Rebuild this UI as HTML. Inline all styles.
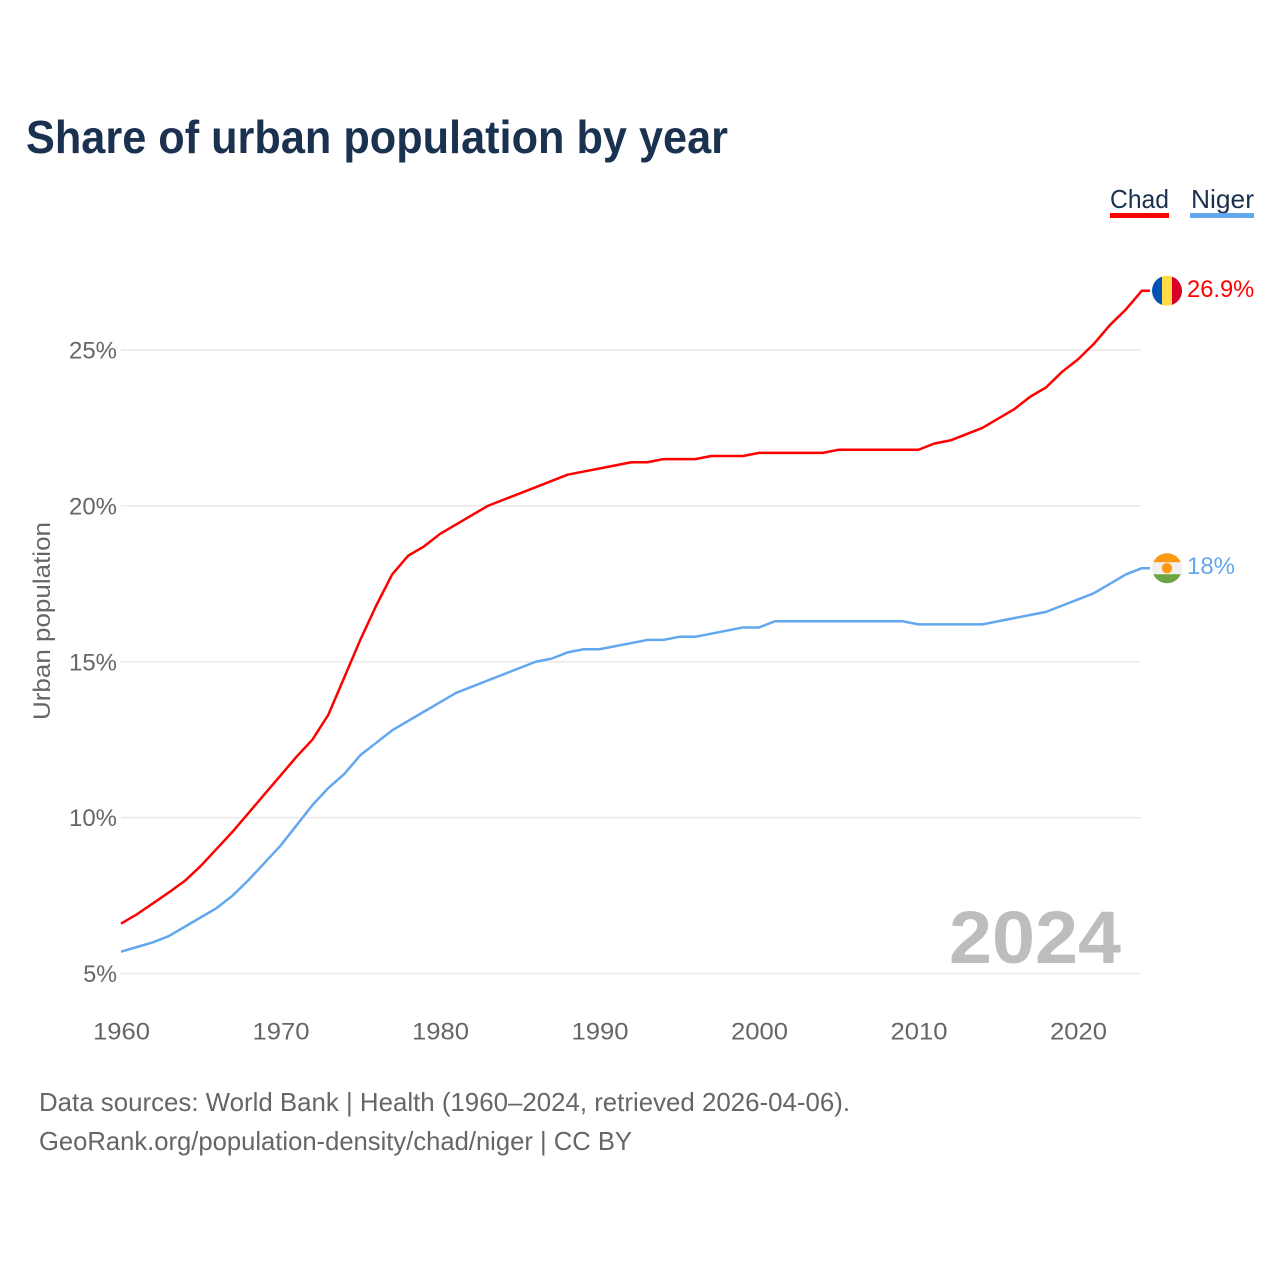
<!DOCTYPE html>
<html lang="en">
<head>
<meta charset="utf-8">
<title>Share of urban population by year</title>
<style>
html,body{margin:0;padding:0;background:#fff;}
svg{display:block;font-family:"Liberation Sans",sans-serif;}
</style>
</head>
<body>
<svg id="chart" xmlns="http://www.w3.org/2000/svg" width="1280" height="1280" viewBox="0 0 1280 1280">
  <rect x="0" y="0" width="1280" height="1280" fill="#ffffff"/>
  <defs>
    <clipPath id="clip-chad"><circle id="clip-chad-circle" cx="1167" cy="290" r="15"/></clipPath>
    <clipPath id="clip-niger"><circle id="clip-niger-circle" cx="1167" cy="568" r="15"/></clipPath>
  </defs>
  <text x="26" y="153" font-size="46" font-weight="700" fill="#1a3150" textLength="702" lengthAdjust="spacingAndGlyphs">Share of urban population by year</text>

  <g>
    <g>
      <text x="1110" y="208" font-size="26" fill="#1a3150" textLength="59" lengthAdjust="spacingAndGlyphs">Chad</text>
      <rect x="1110" y="213" width="59" height="5" fill="#ff0000"/>
    </g>
    <g>
      <text x="1191" y="208" font-size="26" fill="#1a3150" textLength="63" lengthAdjust="spacingAndGlyphs">Niger</text>
      <rect x="1190" y="213" width="64" height="5" fill="#63a7ee"/>
    </g>
  </g>

  <text transform="translate(50,720) rotate(-90)" font-size="24" fill="#666666" textLength="198" lengthAdjust="spacingAndGlyphs">Urban population</text>

  <g id="grid"></g>
  <g id="y-ticks"></g>
  <g id="x-ticks"></g>

  <text x="949" y="963" font-size="74" font-weight="700" fill="#bdbdbd" textLength="172" lengthAdjust="spacingAndGlyphs">2024</text>

  <g id="series"></g>

  <g id="flag-chad" clip-path="url(#clip-chad)">
    <rect id="chad-a" x="1152" width="10" height="30" fill="#0052b4"/>
    <rect id="chad-b" x="1162" width="10" height="30" fill="#ffda44"/>
    <rect id="chad-c" x="1172" width="10" height="30" fill="#d80027"/>
  </g>
  <g id="flag-niger" clip-path="url(#clip-niger)">
    <rect id="niger-a" x="1152" width="30" height="10" fill="#ff9811"/>
    <rect id="niger-b" x="1152" width="30" height="12" fill="#f0f0f0"/>
    <rect id="niger-c" x="1152" width="30" height="10" fill="#6da544"/>
    <circle id="niger-d" cx="1167" r="5.2" fill="#ff9811"/>
  </g>
  <text id="value-chad" x="1187" font-size="24" fill="#ff0000"></text>
  <text id="value-niger" x="1187" font-size="24" fill="#63a7ee"></text>

  <text x="39" y="1111" font-size="26" fill="#666666" textLength="811" lengthAdjust="spacingAndGlyphs">Data sources: World Bank | Health (1960–2024, retrieved 2026-04-06).</text>
  <text x="39" y="1150" font-size="26" fill="#666666" textLength="593" lengthAdjust="spacingAndGlyphs">GeoRank.org/population-density/chad/niger | CC BY</text>
</svg>
<script>
const startYear = 1960;
const xTickYears = [1960, 1970, 1980, 1990, 2000, 2010, 2020];
const yTickValues = [5, 10, 15, 20, 25];
const chadValues = [6.6, 6.9, 7.25, 7.6, 7.97, 8.45, 9.0, 9.55, 10.15, 10.75, 11.35, 11.95, 12.5, 13.3, 14.5, 15.7, 16.8, 17.8, 18.4, 18.7, 19.1, 19.4, 19.7, 20.0, 20.2, 20.4, 20.6, 20.8, 21.0, 21.1, 21.2, 21.3, 21.4, 21.4, 21.5, 21.5, 21.5, 21.6, 21.6, 21.6, 21.7, 21.7, 21.7, 21.7, 21.7, 21.8, 21.8, 21.8, 21.8, 21.8, 21.8, 22.0, 22.1, 22.3, 22.5, 22.8, 23.1, 23.5, 23.8, 24.3, 24.7, 25.2, 25.8, 26.3, 26.9];
const nigerValues = [5.7, 5.85, 6.0, 6.2, 6.5, 6.8, 7.1, 7.5, 8.0, 8.55, 9.1, 9.75, 10.4, 10.95, 11.4, 12.0, 12.4, 12.8, 13.1, 13.4, 13.7, 14.0, 14.2, 14.4, 14.6, 14.8, 15.0, 15.1, 15.3, 15.4, 15.4, 15.5, 15.6, 15.7, 15.7, 15.8, 15.8, 15.9, 16.0, 16.1, 16.1, 16.3, 16.3, 16.3, 16.3, 16.3, 16.3, 16.3, 16.3, 16.3, 16.2, 16.2, 16.2, 16.2, 16.2, 16.3, 16.4, 16.5, 16.6, 16.8, 17.0, 17.2, 17.5, 17.8, 18.0];

const NS = 'http://www.w3.org/2000/svg';
function xScale(year) { return 121 + (year - 1960) * 15.95; }
function yScale(value) { return 973.5 - (value - 5) * 31.175; }
function textWidth(s) {
  let w = 0;
  for (const c of s) { w += c === '%' ? 19.5 : c === '.' ? 5 : 14.25; }
  return w;
}
function make(tag, attrs, parent) {
  const el = document.createElementNS(NS, tag);
  for (const k in attrs) { el.setAttribute(k, attrs[k]); }
  parent.appendChild(el);
  return el;
}

const grid = document.getElementById('grid');
const yTicks = document.getElementById('y-ticks');
const xTicks = document.getElementById('x-ticks');
const series = document.getElementById('series');

yTickValues.forEach(function (v) {
  const line = make('line', { x1: 121, x2: 1141, y1: yScale(v), y2: yScale(v), stroke: '#e9e9e9', 'stroke-width': 1.5 }, grid);
  
  
  const label = v + '%';
  const t = make('text', { x: 117, y: yScale(v) + 8.5, 'font-size': 24, fill: '#666666', 'text-anchor': 'end', textLength: textWidth(label), lengthAdjust: 'spacingAndGlyphs' }, yTicks);
  
  
  t.textContent = label;
});

xTickYears.forEach(function (y) {
  const label = String(y);
  const t = make('text', { x: xScale(y) + 0.5, y: 1039.5, 'font-size': 24, fill: '#666666', 'text-anchor': 'middle', textLength: textWidth(label), lengthAdjust: 'spacingAndGlyphs' }, xTicks);
  
  
  t.textContent = label;
});

function drawSeries(values, color, key) {
  const pts = values.map(function (v, i) { return xScale(startYear + i).toFixed(2) + ',' + yScale(v).toFixed(2); });
  const lastY = yScale(values[values.length - 1]);
  pts.push('1150,' + lastY.toFixed(2));
  const line = make('polyline', { points: pts.join(' '), fill: 'none', stroke: color, 'stroke-width': 2.5, 'stroke-linejoin': 'round' }, series);
  
  
  return lastY;
}

const chadY = drawSeries(chadValues, '#ff0000', 'chad');
const nigerY = drawSeries(nigerValues, '#63a7ee', 'niger');

function place(id, attr, val) { document.getElementById(id).setAttribute(attr, val); }
place('clip-chad-circle', 'cy', chadY);
place('chad-a', 'y', chadY - 15);
place('chad-b', 'y', chadY - 15);
place('chad-c', 'y', chadY - 15);
place('clip-niger-circle', 'cy', nigerY);
place('niger-a', 'y', nigerY - 15);
place('niger-b', 'y', nigerY - 6);
place('niger-c', 'y', nigerY + 6);
place('niger-d', 'cy', nigerY);

function setValue(id, value, y) {
  const el = document.getElementById(id);
  const label = value + '%';
  el.textContent = label;
  el.setAttribute('y', y + 6);
  el.setAttribute('textLength', textWidth(label));
  el.setAttribute('lengthAdjust', 'spacingAndGlyphs');
}
setValue('value-chad', chadValues[chadValues.length - 1], chadY);
setValue('value-niger', nigerValues[nigerValues.length - 1], nigerY);
</script>
</body>
</html>
